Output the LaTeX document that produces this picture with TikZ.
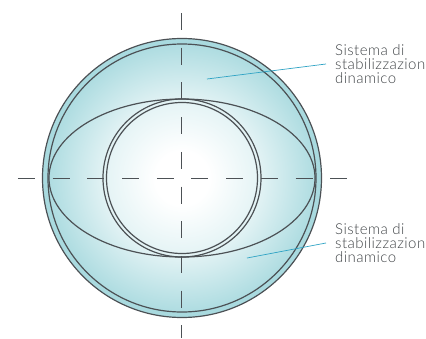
\documentclass[tikz,border=0pt]{standalone}
\usepackage{fontspec}
\setmainfont{Lato Light}[LetterSpace=3]
\usetikzlibrary{positioning}
\definecolor{lensteal}{HTML}{A9DADF}
\definecolor{lensline}{HTML}{4C5155}
\definecolor{leadblue}{HTML}{2FA3C4}
\definecolor{labelgray}{HTML}{3F4346}
\pgfdeclareradialshading{lensfill}{\pgfpointorigin}{color(0bp)=(white);color(5bp)=(white);color(14bp)=(lensteal!30!white);color(26bp)=(lensteal);color(50bp)=(lensteal)}
\tikzset{
    lens/.style={draw=lensline, line width=1.2pt},
    axis/.style={draw=lensline, line width=1pt, dash pattern=on 17pt off 17.7pt},
    lead/.style={draw=leadblue, line width=0.7pt},
    label/.style={font=\fontsize{15}{14}\selectfont, text=labelgray, align=left, anchor=west, inner xsep=9pt, inner ysep=0pt}
}
\begin{document}
\begin{tikzpicture}[x=1pt, y=1pt]
    \useasboundingbox (-182,-160) rectangle (244,178);
    \fill[lensteal] (0,0) circle[radius=139.5];
    \shade[shading=lensfill] (0,0) circle[radius=134];
    \draw[lens] (0,0) circle[radius=139.5];
    \draw[lens] (0,0) circle[radius=134];
    \draw[lens] (0,0) ellipse[x radius=133, y radius=79];
    \draw[lens] (0,0) circle[radius=79];
    \draw[lens] (0,0) circle[radius=75.5];
    \coordinate (axisT) at (0,165);
    \coordinate (axisB) at (0,-160);
    \coordinate (axisL) at (-164,0);
    \coordinate (axisR) at (165,0);
    \draw[axis] (axisT) -- (axisB);
    \draw[axis] (axisL) -- (axisR);
    \node[label] (labelA) at (144,114) {Sistema di\\stabilizzazion\\dinamico};
    \node[label] (labelB) at (144,-65) {Sistema di\\stabilizzazion\\dinamico};
    \coordinate (fieldA) at (25,99);
    \coordinate (fieldB) at (65,-80);
    \draw[lead] (fieldA) -- (labelA.west);
    \draw[lead] (fieldB) -- (labelB.west);
\end{tikzpicture}
\end{document}
